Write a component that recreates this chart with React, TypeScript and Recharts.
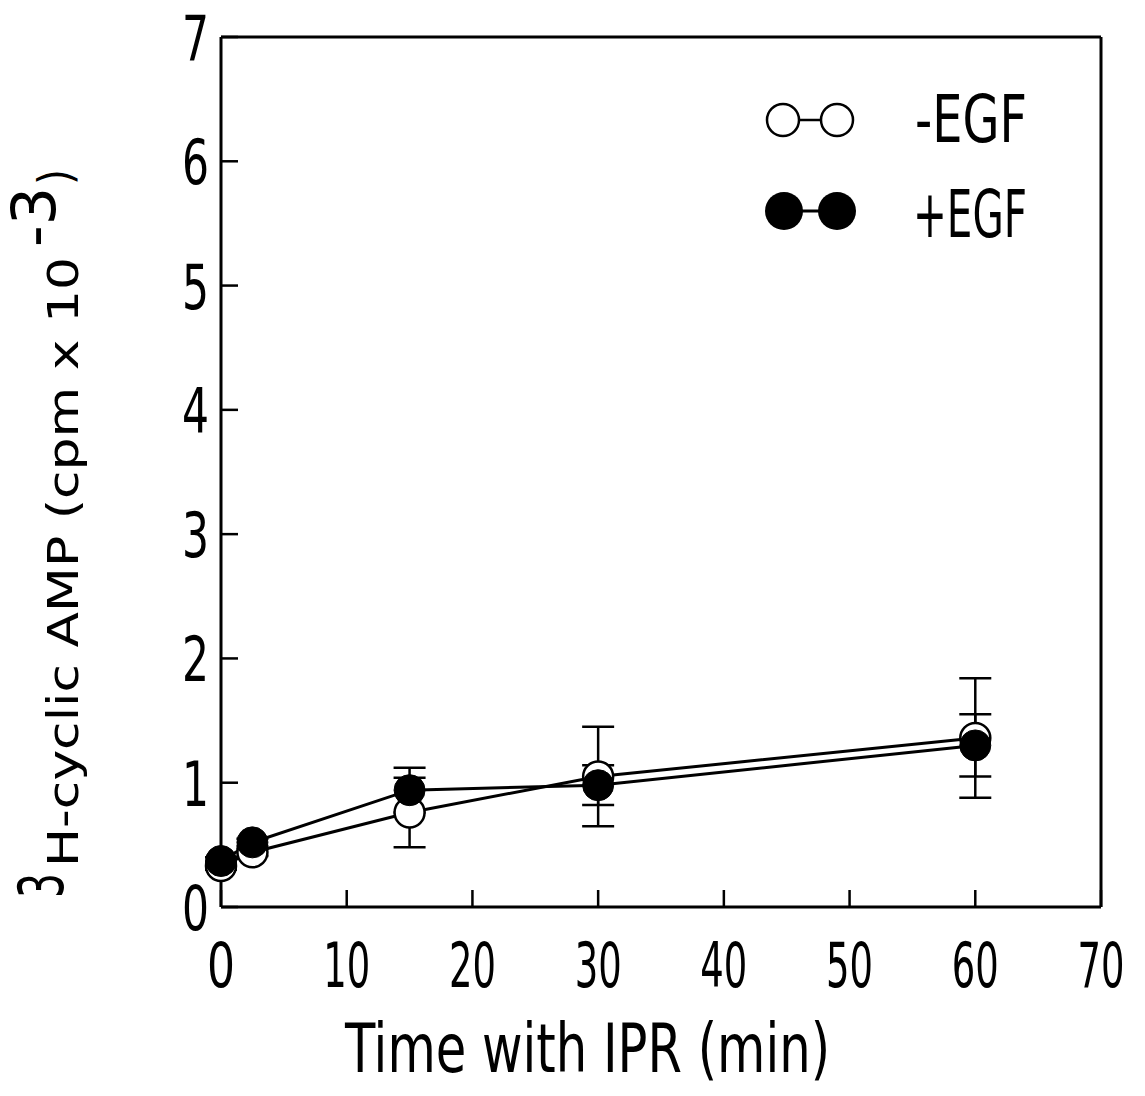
import React from "react";
import {
  LineChart,
  Line,
  XAxis,
  YAxis,
  ErrorBar,
  ReferenceLine,
  Customized,
  Label,
} from "recharts";

// time points (min)
const timeMin = [0, 2.5, 15, 30, 60];

// -EGF (open circles)
const minusEgf = [0.33, 0.44, 0.76, 1.05, 1.36];
const minusEgfErr = [0.03, 0.03, 0.28, 0.4, 0.48];

// +EGF (filled circles)
const plusEgf = [0.37, 0.52, 0.94, 0.98, 1.3];
const plusEgfErr = [0.03, 0.03, 0.18, 0.16, 0.25];

const xTicks = [0, 10, 20, 30, 40, 50, 60, 70];
const yTicks = [0, 1, 2, 3, 4, 5, 6, 7];

const FONT = '"Liberation Sans Narrow", "DejaVu Sans Condensed", "Liberation Sans", sans-serif';

const minusData = timeMin.map((t, i) => ({ t, v: minusEgf[i], e: minusEgfErr[i] }));
const plusData = timeMin.map((t, i) => ({ t, v: plusEgf[i], e: plusEgfErr[i] }));

const YTick = (props: any) => {
  const { x, y, payload } = props;
  return (
    <g>
      <line x1={x} y1={y} x2={x + 17} y2={y} stroke="#000" strokeWidth={2.5} />
      <text
        x={x - 12}
        y={y + 23}
        textAnchor="end"
        fontFamily={FONT}
        fontSize={63}
        fill="#000"
        textLength={27}
        lengthAdjust="spacingAndGlyphs"
      >
        {payload.value}
      </text>
    </g>
  );
};

const XTick = (props: any) => {
  const { x, y, payload } = props;
  const s = String(payload.value);
  return (
    <g>
      <line x1={x} y1={y} x2={x} y2={y - 17} stroke="#000" strokeWidth={2.5} />
      <text
        x={x}
        y={y + 80}
        textAnchor="middle"
        fontFamily={FONT}
        fontSize={63}
        fill="#000"
        textLength={s.length > 1 ? 47 : 28}
        lengthAdjust="spacingAndGlyphs"
      >
        {s}
      </text>
    </g>
  );
};

const YTitle = () => (
  <g transform="translate(78,908) rotate(-90)" fontFamily={FONT} fill="#000">
    <text x={10} y={-15} fontSize={63} textLength={25} lengthAdjust="spacingAndGlyphs">3</text>
    <text x={41} y={0} fontSize={43} textLength={610} lengthAdjust="spacingAndGlyphs">
      H-cyclic AMP (cpm x 10
    </text>
    <text x={661} y={-23} fontSize={60} textLength={60} lengthAdjust="spacingAndGlyphs">
      -3
    </text>
    <text x={723} y={-7} fontSize={46}>)</text>
  </g>
);

const XTitle = () => (
  <text
    x={345}
    y={1072}
    fontFamily={FONT}
    fontSize={68}
    fill="#000"
    textLength={485}
    lengthAdjust="spacingAndGlyphs"
  >
    Time with IPR (min)
  </text>
);

// legend drawn in chart coordinates
const LegendBox = () => (
  <g transform="translate(750,89)" fontFamily={FONT} fill="#000">
    <line x1={33} y1={31} x2={87} y2={31} stroke="#000" strokeWidth={2.5} />
    <circle cx={33} cy={31} r={16} fill="#fff" stroke="#000" strokeWidth={2.5} />
    <circle cx={87} cy={31} r={16} fill="#fff" stroke="#000" strokeWidth={2.5} />
    <text x={165} y={53} fontSize={66} textLength={112} lengthAdjust="spacingAndGlyphs">
      -EGF
    </text>
    <line x1={34} y1={122} x2={87} y2={122} stroke="#000" strokeWidth={3} />
    <circle cx={34} cy={122} r={19} fill="#000" />
    <circle cx={87} cy={122} r={19} fill="#000" />
    <text x={163} y={148} fontSize={66} textLength={114} lengthAdjust="spacingAndGlyphs">
      +EGF
    </text>
  </g>
);

export default function App() {
  return (
    <div style={{ position: "absolute", left: 0, top: 0, background: "#fff" }}>
      <LineChart width={1145} height={1096} margin={{ top: 37, right: 44, bottom: 0, left: 0 }}>
        <XAxis
          dataKey="t"
          type="number"
          domain={[0, 70]}
          ticks={xTicks}
          allowDuplicatedCategory={false}
          height={189}
          tickSize={0}
          tickMargin={0}
          tickLine={false}
          axisLine={{ stroke: "#000", strokeWidth: 3 }}
          tick={<XTick />}
          interval={0}
        >
          <Label content={<XTitle />} />
        </XAxis>
        <YAxis
          type="number"
          domain={[0, 7]}
          ticks={yTicks}
          width={221}
          tickSize={0}
          tickMargin={0}
          tickLine={false}
          axisLine={{ stroke: "#000", strokeWidth: 3 }}
          tick={<YTick />}
          interval={0}
        >
          <Label content={<YTitle />} />
        </YAxis>
        <ReferenceLine y={7} stroke="#000" strokeWidth={3} />
        <ReferenceLine x={70} stroke="#000" strokeWidth={3} />
        <Customized component={<LegendBox />} />
        <Line
          data={minusData}
          dataKey="v"
          stroke="#000"
          strokeWidth={3}
          isAnimationActive={false}
          dot={{ r: 15, fill: "#fff", stroke: "#000", strokeWidth: 2.5 }}
          activeDot={false}
        >
          <ErrorBar dataKey="e" width={16} stroke="#000" strokeWidth={2.5} direction="y" />
        </Line>
        <Line
          data={plusData}
          dataKey="v"
          stroke="#000"
          strokeWidth={3}
          isAnimationActive={false}
          dot={{ r: 15.5, fill: "#000", stroke: "#000", strokeWidth: 1 }}
          activeDot={false}
        >
          <ErrorBar dataKey="e" width={16} stroke="#000" strokeWidth={2.5} direction="y" />
        </Line>
      </LineChart>
    </div>
  );
}
